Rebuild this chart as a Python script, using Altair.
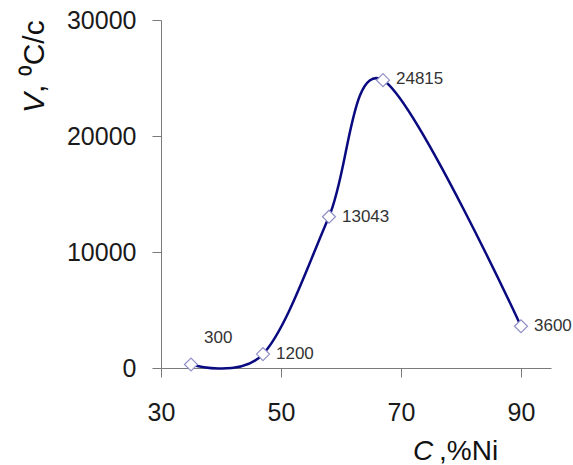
import altair as alt
import pandas as pd

ni = [35, 47, 58, 67, 90]
v = [300, 1200, 13043, 24815, 3600]
labels = ["300", "1200", "13043", "24815", "3600"]
label_dy = [-27, 0, 0, -1, 0]

x_ticks = [30, 50, 70, 90]
y_ticks = [0, 10000, 20000, 30000]

df = pd.DataFrame({"ni": ni, "v": v, "label": labels, "ldy": label_dy})

FONT = "Liberation Sans"

x_enc = alt.X("ni:Q", scale=alt.Scale(domain=[30, 95], nice=False, zero=False),
              axis=alt.Axis(values=x_ticks, title=None, grid=False, format="d",
                            labelPadding=23, labelFlush=False))
y_enc = alt.Y("v:Q", scale=alt.Scale(domain=[0, 30000], nice=False),
              axis=alt.Axis(values=y_ticks, title=None, grid=False, format="d",
                            labelPadding=16))

base = alt.Chart(df)

line = base.mark_line(interpolate="cardinal", color="#0a0a80", strokeWidth=2.5).encode(
    x=x_enc, y=y_enc)

points = base.mark_point(shape="diamond", size=169, filled=True, fill="white",
                         stroke="#9090c8", strokeWidth=1.2, opacity=1).encode(
    x="ni:Q", y="v:Q")

texts = []
for lab, xv, yv, d in zip(labels, ni, v, label_dy):
    texts.append(
        alt.Chart(pd.DataFrame({"ni": [xv], "v": [yv], "label": [lab]})).mark_text(
            align="left", baseline="middle", dx=13, dy=d, font=FONT, fontSize=17,
            color="#333333").encode(x="ni:Q", y="v:Q", text="label:N"))

# axis titles (mixed italic)
ytitle_v = alt.Chart(pd.DataFrame({"t": ["V"]})).mark_text(
    angle=270, align="left", baseline="alphabetic", font=FONT, fontSize=30,
    fontStyle="italic", color="#111111").encode(
    x=alt.value(-117), y=alt.value(93), text="t:N")
ytitle_rest = alt.Chart(pd.DataFrame({"t": [", ⁰C/c"]})).mark_text(
    angle=270, align="left", baseline="alphabetic", font=FONT, fontSize=30,
    color="#111111").encode(
    x=alt.value(-117), y=alt.value(73), text="t:N")

xtitle_c = alt.Chart(pd.DataFrame({"t": ["C"]})).mark_text(
    align="left", baseline="alphabetic", font=FONT, fontSize=28,
    fontStyle="italic", color="#111111").encode(
    x=alt.value(252), y=alt.value(440), text="t:N")
xtitle_rest = alt.Chart(pd.DataFrame({"t": [",%Ni"]})).mark_text(
    align="left", baseline="alphabetic", font=FONT, fontSize=28,
    color="#111111").encode(
    x=alt.value(278), y=alt.value(440), text="t:N")

chart = alt.layer(line, points, *texts, ytitle_v, ytitle_rest, xtitle_c, xtitle_rest).properties(
    width=390, height=348,
    autosize=alt.AutoSizeParams(type="none"),
    padding={"left": 161, "top": 20, "right": 22, "bottom": 97},
    background="white",
).configure_view(stroke=None).configure_axis(
    domainColor="#7a7a7a", tickColor="#7a7a7a", domainWidth=1, tickWidth=1,
    tickSize=9, labelFont=FONT, labelFontSize=25, labelColor="#1a1a1a",
)

chart.save("out.html", embed_options={"renderer": "svg", "actions": False})
